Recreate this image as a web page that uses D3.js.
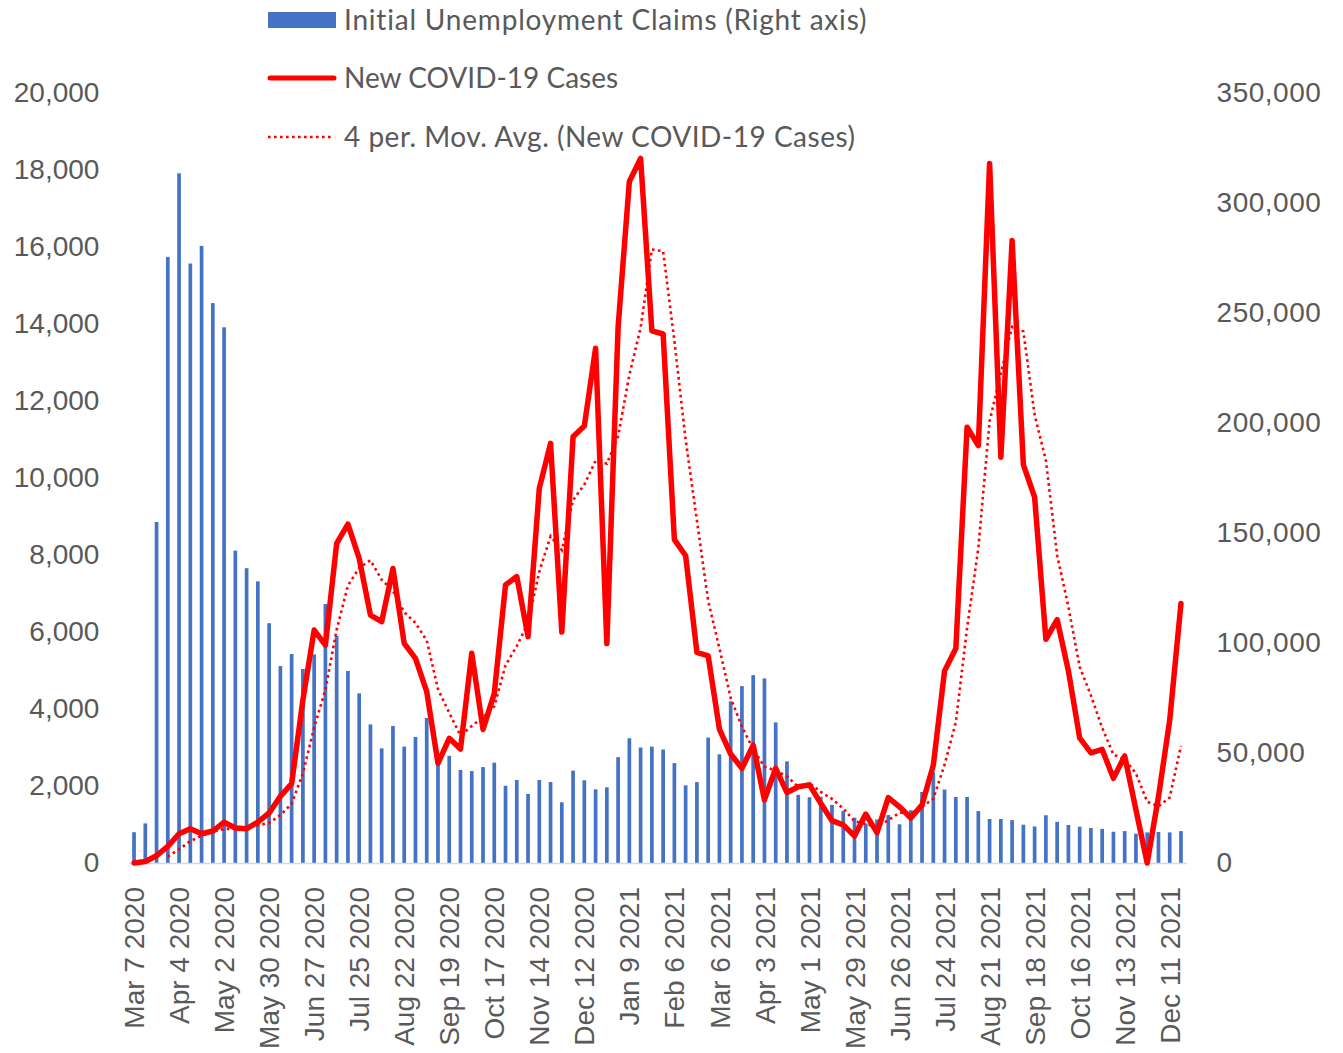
<!DOCTYPE html>
<html>
<head>
<meta charset="utf-8">
<script src="https://cdn.jsdelivr.net/npm/d3@7"></script>
<style>
  html, body { margin: 0; padding: 0; background: #fff; }
  svg { display: block; font-family: Lato, "Open Sans", sans-serif; }
</style>
</head>
<body>
<svg id="chart" width="1343" height="1053"></svg>
<script>
// ---- Data ----
const weeks = [
  "Mar 7 2020","Mar 14 2020","Mar 21 2020","Mar 28 2020","Apr 4 2020","Apr 11 2020","Apr 18 2020","Apr 25 2020",
  "May 2 2020","May 9 2020","May 16 2020","May 23 2020","May 30 2020","Jun 6 2020","Jun 13 2020","Jun 20 2020",
  "Jun 27 2020","Jul 4 2020","Jul 11 2020","Jul 18 2020","Jul 25 2020","Aug 1 2020","Aug 8 2020","Aug 15 2020",
  "Aug 22 2020","Aug 29 2020","Sep 5 2020","Sep 12 2020","Sep 19 2020","Sep 26 2020","Oct 3 2020","Oct 10 2020",
  "Oct 17 2020","Oct 24 2020","Oct 31 2020","Nov 7 2020","Nov 14 2020","Nov 21 2020","Nov 28 2020","Dec 5 2020",
  "Dec 12 2020","Dec 19 2020","Dec 26 2020","Jan 2 2021","Jan 9 2021","Jan 16 2021","Jan 23 2021","Jan 30 2021",
  "Feb 6 2021","Feb 13 2021","Feb 20 2021","Feb 27 2021","Mar 6 2021","Mar 13 2021","Mar 20 2021","Mar 27 2021",
  "Apr 3 2021","Apr 10 2021","Apr 17 2021","Apr 24 2021","May 1 2021","May 8 2021","May 15 2021","May 22 2021",
  "May 29 2021","Jun 5 2021","Jun 12 2021","Jun 19 2021","Jun 26 2021","Jul 3 2021","Jul 10 2021","Jul 17 2021",
  "Jul 24 2021","Jul 31 2021","Aug 7 2021","Aug 14 2021","Aug 21 2021","Aug 28 2021","Sep 4 2021","Sep 11 2021",
  "Sep 18 2021","Sep 25 2021","Oct 2 2021","Oct 9 2021","Oct 16 2021","Oct 23 2021","Oct 30 2021","Nov 6 2021",
  "Nov 13 2021","Nov 20 2021","Nov 27 2021","Dec 4 2021","Dec 11 2021","Dec 18 2021"
];

const claims = [
  14000, 18000, 155000, 275500, 313500, 272500, 280500, 254500,
  243500, 142000, 134000, 128000, 109000, 89500, 95000, 88200,
  94800, 117700, 103200, 87300, 77100, 63000, 52100, 62300,
  52900, 57300, 65900, 49000, 48700, 42300, 41800, 43600,
  45600, 35100, 37700, 31400, 37700, 36800, 27600, 42000,
  37600, 33500, 34400, 48100, 56700, 52500, 52900, 51600,
  45400, 35300, 36800, 57000, 49400, 73500, 80400, 85400,
  83900, 63900, 46200, 31000, 29900, 30100, 26400, 23600,
  20600, 18000, 19800, 21800, 17600, 24000, 32300, 41200,
  33400, 30000, 30000, 23600, 20000, 20000, 19500, 17400,
  16600, 21700, 18700, 17300, 16500, 15900, 15500, 14200,
  14500, 13300, 13900, 14100, 13900, 14500
];

const cases = [
  0, 40, 190, 430, 760, 890, 760, 830,
  1060, 910, 890, 1060, 1300, 1730, 2060, 4230,
  6050, 5660, 8300, 8800, 7910, 6440, 6270, 7650,
  5705, 5315, 4450, 2590, 3240, 2960, 5450, 3470,
  4400, 7220, 7440, 5880, 9730, 10900, 6000, 11070,
  11350, 13370, 5700, 13920, 17700, 18300, 13820, 13740,
  8400, 7980, 5470, 5380, 3480, 2830, 2460, 3060,
  1640, 2460, 1830, 1980, 2030, 1550, 1100, 990,
  700, 1270, 790, 1700, 1460, 1170, 1510, 2540,
  4990, 5570, 11320, 10840, 18170, 10540, 16170, 10350,
  9500, 5810, 6320, 4990, 3250, 2860, 2950, 2200,
  2780, 1380, 0, 1720, 3710, 6740
];

const leftTicks = [0, 2000, 4000, 6000, 8000, 10000, 12000, 14000, 16000, 18000, 20000];
const rightTicks = [0, 50000, 100000, 150000, 200000, 250000, 300000, 350000];
const labelEvery = 4;
const maPeriod = 4;

const seriesNames = {
  claims: "Initial Unemployment Claims (Right axis)",
  cases: "New COVID-19 Cases",
  ma: "4 per. Mov. Avg. (New COVID-19 Cases)"
};

// ---- Layout ----
const svg = d3.select("#chart");
const plot = { left: 128.4, right: 1186.6, top: 93, bottom: 863 };
const textColor = "#595959";
const barColor = "#4472C4";
const lineColor = "#FF0000";

const x = d3.scaleBand().domain(d3.range(weeks.length)).range([plot.left, plot.right]).padding(0);
const yL = d3.scaleLinear().domain([0, 20000]).range([plot.bottom, plot.top]);
const yR = d3.scaleLinear().domain([0, 350000]).range([plot.bottom, plot.top]);
const cx = i => x(i) + x.bandwidth() / 2;
const fmt = d3.format(",");

// Bars
const barW = 3.7;
svg.append("g").selectAll("rect").data(claims).join("rect")
  .attr("x", (d, i) => cx(i) - barW / 2)
  .attr("y", d => yR(d))
  .attr("width", barW)
  .attr("height", d => yR(0) - yR(d))
  .attr("fill", barColor);

// X axis
const xAxis = d3.axisBottom(x)
  .tickValues(d3.range(0, weeks.length, labelEvery))
  .tickFormat(i => weeks[i])
  .tickSize(0);
const gx = svg.append("g").attr("transform", `translate(0,${plot.bottom})`).call(xAxis);
gx.select(".domain").attr("stroke", "#D9D9D9").attr("stroke-width", 1.5);
gx.selectAll("text")
  .attr("fill", textColor)
  .attr("font-size", 28)
  .attr("text-anchor", "end")
  .attr("transform", "translate(0,24) rotate(-90)")
  .attr("x", 0).attr("y", 0).attr("dy", "0.36em");

// Left axis
const gl = svg.append("g").attr("transform", `translate(${plot.left},0)`)
  .call(d3.axisLeft(yL).tickValues(leftTicks).tickFormat(fmt).tickSize(0).tickPadding(29));
gl.select(".domain").remove();
gl.selectAll("text").attr("fill", textColor).attr("font-size", 28);

// Right axis
const gr = svg.append("g").attr("transform", `translate(${plot.right},0)`)
  .call(d3.axisRight(yR).tickValues(rightTicks).tickFormat(fmt).tickSize(0).tickPadding(30));
gr.select(".domain").remove();
gr.selectAll("text").attr("fill", textColor).attr("font-size", 28).attr("letter-spacing", 0.5);

// Cases line
const line = d3.line().x((d, i) => cx(i)).y(d => yL(d));
svg.append("path").datum(cases)
  .attr("d", line)
  .attr("fill", "none")
  .attr("stroke", lineColor)
  .attr("stroke-width", 5.5)
  .attr("stroke-linejoin", "round")
  .attr("stroke-linecap", "round");

// Moving-average trendline (Excel "4 per. Mov. Avg.")
const maPts = d3.range(maPeriod - 1, cases.length)
  .map(i => [i, d3.mean(cases.slice(i - maPeriod + 1, i + 1))]);
svg.append("path").datum(maPts)
  .attr("d", d3.line().x(d => cx(d[0])).y(d => yL(d[1])))
  .attr("fill", "none")
  .attr("stroke", lineColor)
  .attr("stroke-width", 2.6)
  .attr("stroke-dasharray", "2.6 3.4");

// Legend
const lg = svg.append("g");
const lgX = 268, lgW = 68, lgTextX = 344;
const rows = [20, 78, 137];
const spacing = [0.8, 0, 0.5];
lg.append("rect").attr("x", lgX).attr("y", rows[0] - 8).attr("width", lgW).attr("height", 16).attr("fill", barColor);
lg.append("line").attr("x1", lgX + 2).attr("x2", lgX + lgW - 2).attr("y1", rows[1]).attr("y2", rows[1])
  .attr("stroke", lineColor).attr("stroke-width", 5).attr("stroke-linecap", "round");
lg.append("line").attr("x1", lgX).attr("x2", lgX + 65).attr("y1", rows[2]).attr("y2", rows[2])
  .attr("stroke", lineColor).attr("stroke-width", 2.6).attr("stroke-dasharray", "2.6 3.4");
[seriesNames.claims, seriesNames.cases, seriesNames.ma].forEach((t, k) => {
  lg.append("text").attr("x", lgTextX).attr("y", rows[k]).attr("dy", "0.35em")
    .attr("fill", textColor).attr("font-size", 28).attr("letter-spacing", spacing[k]).text(t);
});
</script>
</body>
</html>
